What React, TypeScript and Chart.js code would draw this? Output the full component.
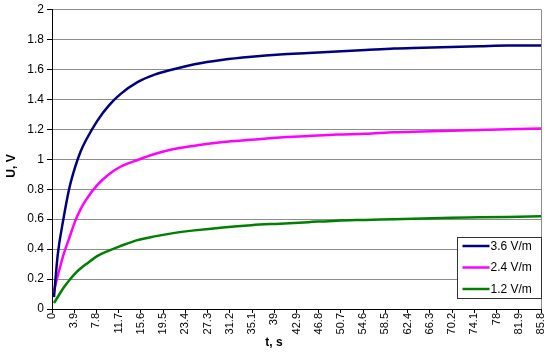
import React, { useEffect, useRef } from "react";
import { Chart, registerables } from "chart.js";

Chart.register(...registerables);

const times = [0.35, 1, 2, 3, 4, 5, 6, 8, 10, 12, 15, 18, 21, 25, 30, 35, 40, 45, 50, 55, 60, 65, 70, 75, 80, 85.8];
const blueValues = [0.08, 0.36, 0.6, 0.8, 0.94, 1.05, 1.13, 1.26, 1.36, 1.435, 1.515, 1.565, 1.598, 1.635, 1.665, 1.685, 1.7, 1.71, 1.72, 1.73, 1.74, 1.745, 1.75, 1.755, 1.76, 1.76];
const pinkValues = [0.12, 0.22, 0.36, 0.47, 0.58, 0.665, 0.73, 0.83, 0.9, 0.95, 0.995, 1.035, 1.065, 1.09, 1.115, 1.13, 1.145, 1.155, 1.165, 1.17, 1.18, 1.185, 1.19, 1.195, 1.2, 1.205];
const greenValues = [0.04, 0.08, 0.14, 0.19, 0.235, 0.27, 0.3, 0.355, 0.39, 0.42, 0.46, 0.485, 0.505, 0.525, 0.545, 0.56, 0.57, 0.58, 0.59, 0.595, 0.6, 0.605, 0.61, 0.612, 0.615, 0.62];
const seriesLabels = ["3.6 V/m", "2.4 V/m", "1.2 V/m"];
const xTickValues = [0, 3.9, 7.8, 11.7, 15.6, 19.5, 23.4, 27.3, 31.2, 35.1, 39, 42.9, 46.8, 50.7, 54.6, 58.5, 62.4, 66.3, 70.2, 74.1, 78, 81.9, 85.8];
const xTickLabels = ["0", "3.9", "7.8", "11.7", "15.6", "19.5", "23.4", "27.3", "31.2", "35.1", "39", "42.9", "46.8", "50.7", "54.6", "58.5", "62.4", "66.3", "70.2", "74.1", "78", "81.9", "85.8"];
const xTitle = "t, s";
const yTitle = "U, V";

const FONT = "'Liberation Sans', Arial, sans-serif";

const frameAndLegend = {
  id: "frameAndLegend",
  afterDraw(chart: any) {
    const { ctx, chartArea } = chart;
    ctx.save();
    ctx.strokeStyle = "#8c8c8c";
    ctx.lineWidth = 1;
    ctx.beginPath();
    ctx.moveTo(Math.round(chartArea.right) + 0.5, chartArea.top);
    ctx.lineTo(Math.round(chartArea.right) + 0.5, chartArea.bottom);
    ctx.stroke();

    // axis titles
    ctx.fillStyle = "#000";
    ctx.font = `bold 12px ${FONT}`;
    ctx.textAlign = "center";
    ctx.textBaseline = "middle";
    ctx.fillText(xTitle, 274, 343);
    ctx.save();
    ctx.translate(12, 166);
    ctx.rotate(-Math.PI / 2);
    ctx.fillText(yTitle, 0, 0);
    ctx.restore();

    const w = 84, h = 61;
    const x = Math.round(chartArea.right) - w + 0.5;
    const y = Math.round(chartArea.bottom) - 11 - h + 0.5;
    ctx.fillStyle = "#ffffff";
    ctx.fillRect(x, y, w, h);
    ctx.strokeStyle = "#333333";
    ctx.lineWidth = 1;
    ctx.strokeRect(x, y, w, h);
    ctx.font = `12px ${FONT}`;
    ctx.textBaseline = "middle";
    ctx.textAlign = "left";
    chart.data.datasets.forEach((ds: any, i: number) => {
      const ly = y + 8.5 + i * 21.5;
      ctx.strokeStyle = ds.borderColor;
      ctx.lineWidth = 2.5;
      ctx.beginPath();
      ctx.moveTo(x + 5, ly);
      ctx.lineTo(x + 32, ly);
      ctx.stroke();
      ctx.fillStyle = "#000000";
      ctx.fillText(ds.label, x + 33, ly + 0.5);
    });
    ctx.restore();
  },
};

export default function App() {
  const ref = useRef<HTMLCanvasElement>(null);
  useEffect(() => {
    document.body.style.margin = "0";
    const mk = (vals: number[]) => times.map((t, i) => ({ x: t, y: vals[i] }));
    const chart = new Chart(ref.current as HTMLCanvasElement, {
      type: "line",
      data: {
        datasets: [
          { label: seriesLabels[0], data: mk(blueValues), borderColor: "#000080", borderWidth: 2.5, pointRadius: 0, cubicInterpolationMode: "monotone" },
          { label: seriesLabels[1], data: mk(pinkValues), borderColor: "#FF00FF", borderWidth: 2.5, pointRadius: 0, cubicInterpolationMode: "monotone" },
          { label: seriesLabels[2], data: mk(greenValues), borderColor: "#008000", borderWidth: 2.5, pointRadius: 0, cubicInterpolationMode: "monotone" },
        ],
      },
      options: {
        animation: false,
        responsive: false,
        layout: { padding: { top: 9.5, right: 9, left: 0, bottom: 0 } },
        plugins: { legend: { display: false }, tooltip: { enabled: false } },
        scales: {
          x: {
            type: "linear",
            min: 0,
            max: 85.8,
            afterBuildTicks: (scale: any) => {
              scale.ticks = xTickValues.map((v) => ({ value: v }));
            },
            afterFit: (scale: any) => {
              scale.height = 45;
              scale.paddingLeft = 0;
              scale.paddingRight = 0;
            },
            ticks: {
              autoSkip: false,
              minRotation: 90,
              maxRotation: 90,
              padding: 0,
              color: "#000",
              font: { family: FONT, size: 11 },
              callback: (_v: any, i: number) => xTickLabels[i],
            },
            grid: { drawOnChartArea: false, drawTicks: true, tickLength: 4, tickColor: "#000", color: "#000" },
            border: { display: true, color: "#000", width: 1 },
            title: { display: false },
          },
          y: {
            min: 0,
            max: 2,
            afterFit: (scale: any) => {
              scale.width = 52;
              scale.paddingTop = 0;
              scale.paddingBottom = 0;
            },
            ticks: {
              stepSize: 0.2,
              padding: 3,
              color: "#000",
              font: { family: FONT, size: 12 },
              callback: (v: any) => String(Math.round(Number(v) * 10) / 10),
            },
            grid: { color: "#8c8c8c", tickLength: 5, tickColor: "#000", lineWidth: 1 },
            border: { display: true, color: "#000", width: 1 },
            title: { display: false },
          },
        },
      },
      plugins: [frameAndLegend],
    } as any);
    return () => chart.destroy();
  }, []);
  return <canvas ref={ref} width={550} height={354} style={{ display: "block" }} />;
}
